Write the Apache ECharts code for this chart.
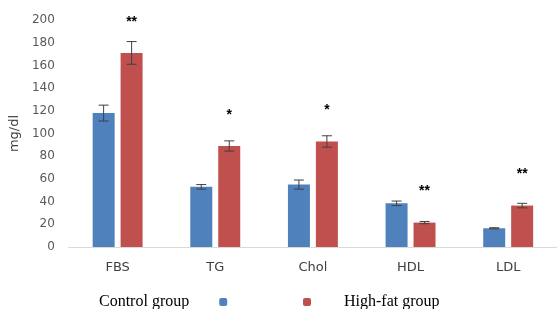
<!DOCTYPE html>
<html>
<head>
<meta charset="utf-8">
<script src="https://cdn.jsdelivr.net/npm/echarts@6/dist/echarts.min.js"></script>
<style>
  html, body { margin: 0; padding: 0; background: #fff; }
  #chart { width: 557px; height: 309px; }
</style>
</head>
<body>
<div id="chart"></div>
<script>
// 数据
var categories = ['FBS', 'TG', 'Chol', 'HDL', 'LDL'];
var controlValues = [118, 53, 55, 38.5, 16.5];
var controlErrors = [7, 2, 4, 2, 0.5];
var highFatValues = [171, 89, 93, 21.5, 36.5];
var highFatErrors = [10, 4.5, 5, 1, 2];
var significance = ['**', '*', '*', '**', '**'];

var myChart = echarts.init(document.getElementById('chart'));

// 误差线
function errorBars(offset) {
  return function (params, api) {
    var i = api.value(0);
    var x = api.coord([i, 0])[0] + offset;
    var hi = api.coord([i, api.value(1) + api.value(2)])[1];
    var lo = api.coord([i, api.value(1) - api.value(2)])[1];
    var cap = 5;
    var style = { stroke: '#404040', lineWidth: 1 };
    return {
      type: 'group',
      children: [
        { type: 'line', shape: { x1: x, y1: hi, x2: x, y2: lo }, style: style },
        { type: 'line', shape: { x1: x - cap, y1: hi, x2: x + cap, y2: hi }, style: style },
        { type: 'line', shape: { x1: x - cap, y1: lo, x2: x + cap, y2: lo }, style: style }
      ]
    };
  };
}

function errData(values, errors) {
  return values.map(function (v, i) { return [i, v, errors[i]]; });
}

var legendText = {
  fontFamily: 'Liberation Serif',
  fontSize: 16,
  color: '#000'
};

var opt = {
  animation: false,
  grid: { left: 68, width: 492, top: 20, bottom: 62 },
  legend: [
    {
      data: ['Control group'],
      align: 'right',
      left: 94,
      top: 289,
      itemWidth: 8,
      itemHeight: 8,
      textStyle: Object.assign({ padding: [0, 25, 0, 0] }, legendText)
    },
    {
      data: ['High-fat group'],
      align: 'left',
      left: 298,
      top: 289,
      itemWidth: 8,
      itemHeight: 8,
      textStyle: Object.assign({ padding: [0, 0, 0, 28] }, legendText)
    }
  ],
  xAxis: {
    type: 'category',
    data: categories,
    axisLine: { lineStyle: { color: '#d9d9d9' } },
    axisTick: { show: false },
    axisLabel: {
      margin: 14,
      fontFamily: 'DejaVu Sans',
      fontSize: 13,
      color: '#404040'
    }
  },
  yAxis: {
    type: 'value',
    min: 0,
    max: 200,
    interval: 20,
    name: 'mg/dl',
    nameLocation: 'middle',
    nameGap: 38,
    nameRotate: 90,
    nameTextStyle: { fontFamily: 'DejaVu Sans', fontSize: 13, color: '#404040' },
    axisLine: { show: false },
    axisTick: { show: false },
    splitLine: { show: false },
    axisLabel: {
      margin: 14,
      fontFamily: 'DejaVu Sans',
      fontSize: 12,
      color: '#595959'
    }
  },
  series: [
    {
      name: 'Control group',
      type: 'bar',
      data: controlValues,
      barWidth: 22,
      barGap: '27%',
      itemStyle: { color: '#4F81BD' }
    },
    {
      name: 'High-fat group',
      type: 'bar',
      data: highFatValues,
      barWidth: 22,
      itemStyle: { color: '#C0504D' },
      label: {
        show: true,
        position: 'top',
        distance: 24,
        formatter: function (p) { return significance[p.dataIndex]; },
        fontFamily: 'Liberation Sans',
        fontWeight: 'bold',
        fontSize: 14,
        color: '#000'
      }
    },
    {
      type: 'custom',
      renderItem: errorBars(-14),
      data: errData(controlValues, controlErrors),
      z: 10
    },
    {
      type: 'custom',
      renderItem: errorBars(14),
      data: errData(highFatValues, highFatErrors),
      z: 10
    }
  ]
};

myChart.setOption(opt);
</script>
</body>
</html>
